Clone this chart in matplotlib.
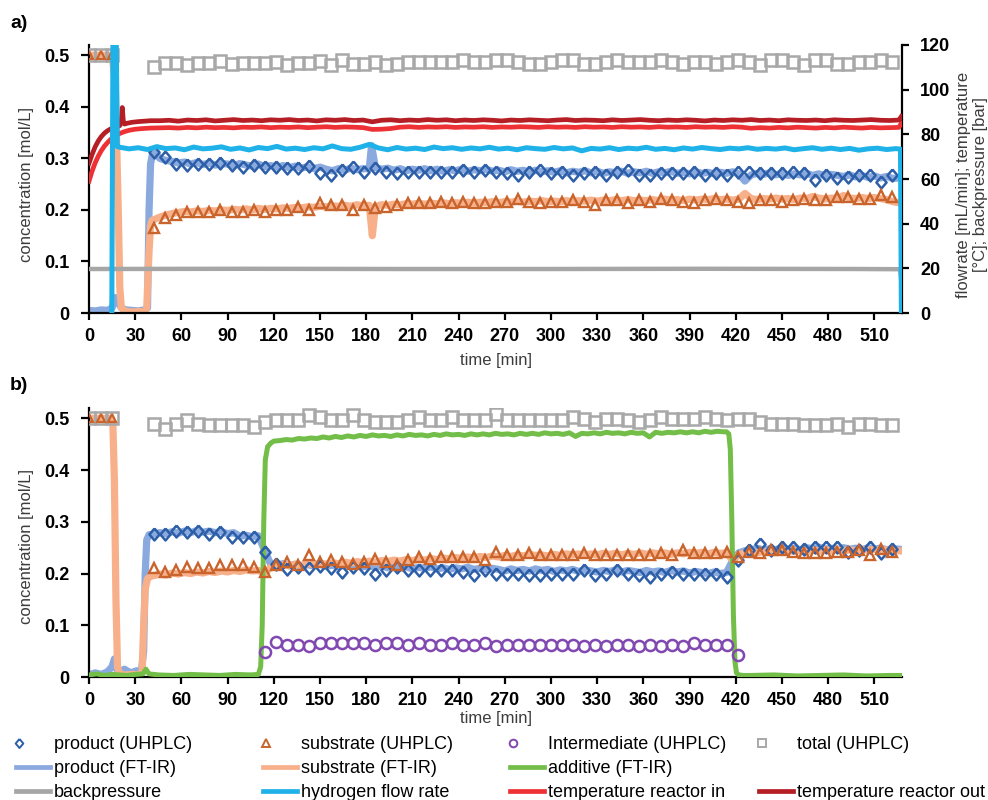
import numpy as np
import matplotlib
matplotlib.use("Agg")
import matplotlib.pyplot as plt
from matplotlib.lines import Line2D
from matplotlib.legend_handler import HandlerBase

plt.rcParams['font.family'] = ['Liberation Sans', 'DejaVu Sans']

# ------------------------------------------------------------------ DATA
# UHPLC sampling times [min] (evenly sampled, ~7.15 min)
uhplc_time = 42.5 + 7.15 * np.arange(68)
start_time = [0, 7.5, 15]
start_conc = [0.5, 0.5, 0.5]

# ---- panel a, UHPLC [mol/L]
a_prod_uhplc = [.312, .303, .290, .287, .290, .290, .291, .287, .284, .287, .284, .284, .281, .281, .286, .272, .268,
                .277, .284, .274, .281, .274, .271, .274, .274, .274, .274, .274, .277, .274, .277, .274, .271, .267,
                .274, .277, .271, .274, .267, .271, .274, .267, .274, .277, .267, .267, .271,
                .271, .271, .274, .267, .271, .267, .274, .274, .271, .271, .271, .274, .271, .258, .267, .261, .264,
                .267, .267, .255, .267]
a_sub_uhplc = [.164, .184, .190, .196, .196, .196, .200, .196, .196, .200, .196, .200, .200, .205, .200, .213, .209,
               .209, .200, .209, .203, .206, .209, .213, .213, .213, .216, .213, .216, .213, .213, .216, .216, .222,
               .216, .213, .216, .216, .219, .216, .209, .219, .219, .213, .219, .216, .222, .219, .216,
               .213, .219, .222, .219, .216, .213, .219, .219, .216, .219, .222, .219, .219, .226, .226, .222, .222,
               .229, .226]
a_total_uhplc = [.477, .485, .485, .481, .485, .485, .488, .484, .485, .485, .485, .487, .481, .485, .485, .488, .481,
                 .490, .484, .484, .487, .481, .484, .487, .487, .487, .487, .487, .490, .487, .487, .490, .490, .487,
                 .484, .484, .487, .490, .490, .484, .484, .487, .490, .487, .487, .487, .490, .487, .484,
                 .487, .487, .484, .487, .490, .487, .481, .490, .490, .487, .481, .490, .490, .484, .484, .487, .487,
                 .490, .487]

# ---- panel b, UHPLC [mol/L]
b_prod_uhplc = [.277, .277, .283, .281, .283, .277, .280, .271, .271, .271, .242, .219, .208, .213, .210, .214, .210,
                .203, .213, .210, .200, .207, .213, .207, .207, .207, .207, .207, .203, .197, .207, .200, .200, .200,
                .197, .197, .200, .200, .200, .207, .197, .200, .207, .200, .197, .194, .200,
                .203, .200, .200, .200, .200, .194, .226, .245, .258, .245, .252, .252, .248, .252, .252, .252, .242,
                .245, .252, .239, .248]
b_sub_uhplc = [.210, .203, .207, .213, .210, .210, .216, .216, .216, .213, .203, .216, .223, .216, .236, .223, .226,
               .223, .219, .223, .229, .223, .216, .226, .232, .229, .232, .232, .232, .232, .226, .242, .236, .236,
               .239, .236, .236, .236, .236, .239, .236, .236, .236, .236, .236, .236, .239,
               .236, .245, .239, .239, .239, .242, .232, .242, .239, .245, .245, .242, .239, .239, .239, .242, .242,
               .245, .236, .248, .242]
b_total_uhplc = [.490, .480, .490, .496, .490, .487, .487, .487, .487, .483, .493, .496, .496, .496, .506, .503, .496,
                 .496, .506, .496, .493, .493, .493, .496, .503, .496, .496, .503, .496, .496, .496, .509, .496, .496,
                 .496, .496, .496, .496, .503, .499, .493, .499, .499, .496, .493, .496, .503,
                 .499, .499, .499, .503, .499, .496, .499, .499, .493, .490, .490, .490, .487, .487, .487, .490, .483,
                 .490, .490, .487, .487]
# intermediate measured for UHPLC samples 10..53
b_inter_uhplc = [.049, .068, .062, .062, .059, .065, .065,
                 .065, .065, .065, .062, .065, .065, .062, .065, .062, .062, .065, .062, .062, .065, .059, .062,
                 .062, .062, .062, .062, .062, .062, .059, .062, .059, .062, .062, .059, .062, .059,
                 .062, .059, .065, .062, .062, .062, .042]

# ---- panel a, FT-IR product [mol/L]
a_prod_pre_t = [0, 4, 8, 12, 15, 17, 19, 21, 24, 28, 32, 36, 38, 39, 40, 41, 43]
a_prod_pre_y = [.005, .004, .006, .005, .010, .030, .020, .010, .006, .005, .004, .006, .010, .200, .290, .305, .310]
a_prod_grid = [.300, .296, .294, .291, .293, .289, .292, .288, .291, .287, .290, .289, .286, .290, .287, .285, .289, .284, .286,
               .283, .286, .282, .285, .281, .284, .280, .283, .279, .276, .280, .277, .281, .278, .280, .280, .282, .279, .281, .277,
               .280, .276, .279, .277, .280, .276, .279, .275, .278, .276, .279, .275, .278, .276, .279, .275, .277, .274, .278, .275,
               .277, .273, .277, .274, .276, .273, .276, .272, .275, .273, .276, .272, .275, .271, .274, .272, .275, .271, .274, .272,
               .275, .271, .274, .272, .275, .271, .273, .270, .274, .271, .273, .270, .273, .271, .274, .270, .256, .268, .271, .269,
               .272, .268, .271, .267, .270, .268, .271, .267, .270, .266, .269, .267, .265, .268, .264, .267, .263, .266, .262, .265,
               .261, .262]
a_prod_spike_t = [183.5]
a_prod_spike_y = [.325]

# ---- panel a, FT-IR substrate [mol/L]
a_sub_pre_t = [0, 5, 10, 15, 17, 19, 20, 21, 24, 28, 32, 36, 37.5, 39, 40, 41, 43]
a_sub_pre_y = [.500, .500, .500, .500, .450, .200, .050, .010, .003, .002, .003, .002, .010, .120, .170, .180, .182]
a_sub_grid = [.186, .190, .193, .195, .197, .196, .198, .197, .199, .198, .200, .199, .201, .200, .202, .200, .203, .201, .203,
              .202, .204, .203, .205, .204, .206, .205, .207, .206, .208, .207, .209, .207, .210, .208, .209, .207, .210, .209, .211,
              .210, .212, .211, .213, .211, .213, .212, .214, .212, .214, .213, .215, .213, .215, .214, .216, .214, .216, .215, .217,
              .215, .217, .216, .218, .216, .217, .216, .218, .216, .218, .217, .219, .217, .219, .218, .220, .218, .220, .218, .219,
              .218, .220, .218, .221, .219, .220, .218, .221, .219, .221, .220, .222, .220, .221, .219, .221, .232, .222, .220, .222,
              .221, .223, .221, .222, .220, .223, .222, .226, .223, .221, .223, .222, .228, .223, .222, .224, .222, .224, .222, .220,
              .216, .214]
a_sub_dip_t = [184]
a_sub_dip_y = [.150]

# ---- panel a, right axis: hydrogen flow [mL/min]
h2_pre_t = [14.8, 15.6, 17.6, 18.4]
h2_pre_y = [0, 130, 130, 74.5]
h2_grid = [74.2, 73.5, 74.0, 73.2, 74.5, 73.6, 73.9, 73.1, 74.3, 73.5,
           73.8, 74.4, 73.3, 73.9, 73.0, 74.1, 73.6, 74.6, 73.4, 73.8,
           73.2, 74.0, 73.5, 74.8, 73.6, 73.3, 74.2, 75.5, 73.9, 73.1,
           74.1, 73.4, 73.8, 73.2, 74.3, 73.6, 74.0, 73.3, 73.9, 73.5,
           74.2, 73.4, 73.8, 73.1, 74.0, 73.6, 73.3, 74.1, 73.5, 73.9,
           72.6, 73.7, 73.4, 74.0, 73.2, 73.8, 73.5, 74.2, 73.3, 73.7,
           73.1, 73.9, 73.4, 74.1, 73.6, 73.2, 73.8, 73.5, 74.0, 73.3,
           73.7, 73.4, 73.9, 73.1, 73.6, 74.0, 73.3, 73.8, 73.2, 73.7,
           72.9, 73.5, 73.8, 73.2, 73.6]
h2_end_t = [527.0, 527.6]
h2_end_y = [73.4, 0]

# ---- panel a, right axis: temperatures [°C]
tout_pre_t = [0, 2, 4, 6, 8, 10, 12, 14, 16, 18, 20, 21, 21.6, 22.3, 23, 25, 28, 32, 36, 40]
tout_pre_y = [67.0, 71.0, 74.4, 77.0, 79.0, 80.5, 81.6, 82.4, 83.0, 83.5, 83.9, 86.0, 92.0, 86.0, 84.6, 85.0, 85.4, 85.7, 85.9, 86.1]
tout_grid = [86.1, 86.3, 85.9, 86.4, 86.2, 86.5, 86.0, 86.3, 86.6, 86.2,
             86.4, 86.1, 86.5, 86.3, 86.6, 86.2, 86.4, 86.0, 86.5, 86.3,
             86.6, 86.2, 86.4, 85.6, 86.3, 86.5, 86.1, 86.4, 86.2, 86.6,
             86.3, 86.5, 86.1, 86.4, 86.2, 86.5, 86.3, 86.0, 86.4, 86.2,
             86.5, 86.3, 86.1, 86.4, 86.6, 86.2, 86.4, 86.3, 86.1, 86.5,
             86.2, 86.4, 86.6, 86.3, 86.1, 86.4, 86.2, 86.5, 86.3, 86.0,
             86.4, 86.2, 86.5, 86.3, 86.6, 86.2, 86.4, 86.1, 86.5, 86.3,
             86.2, 86.4, 86.1, 86.5, 86.3, 86.2, 86.4, 86.6, 86.3, 86.2,
             86.4]
tout_end_t = [527.6]
tout_end_y = [88.0]
tin_pre_t = [0, 2, 4, 6, 8, 10, 12, 14, 16, 18, 20, 23, 26, 30, 35, 40]
tin_pre_y = [59.0, 63.5, 67.2, 70.2, 72.7, 74.7, 76.3, 77.7, 78.8, 79.7, 80.4, 81.2, 81.8, 82.3, 82.6, 82.8]
tin_grid = [82.9, 83.0, 82.8, 83.1, 82.9, 83.2, 83.0, 83.1, 82.9, 83.2,
            83.1, 83.3, 83.0, 83.2, 83.1, 83.3, 83.0, 83.2, 83.4, 83.1,
            83.3, 83.2, 83.0, 82.2, 82.3, 82.6, 83.2, 83.4, 83.1, 83.3,
            83.2, 83.4, 83.1, 83.3, 83.2, 83.4, 83.1, 83.3, 83.2, 83.4,
            83.3, 83.1, 83.4, 83.2, 83.3, 83.1, 83.4, 83.2, 83.3, 83.1,
            83.4, 83.2, 83.3, 83.1, 83.4, 83.2, 83.3, 83.1, 83.4, 83.2,
            83.3, 83.1, 83.4, 83.2, 82.7, 83.0, 82.8, 83.1, 82.9, 83.2,
            83.0, 82.8, 83.1, 82.9, 83.2, 83.0, 82.8, 83.1, 82.9, 83.0,
            83.1]
tin_end_t = [527.6]
tin_end_y = [85.0]

# ---- panel a, right axis: backpressure [bar]
bp_t = [0, 100, 200, 300, 400, 500, 526.8, 527.6]
bp_y = [19.7, 19.8, 19.7, 19.7, 19.8, 19.7, 19.6, 14.0]

# ---- panel b, FT-IR product [mol/L]
b_prod_pre_t = [0, 4, 8, 12, 15, 16.5, 18, 20, 23, 27, 31, 34, 35.5, 36.5, 37.5, 39]
b_prod_pre_y = [.004, .008, .005, .010, .020, .035, .015, .010, .015, .008, .012, .010, .050, .200, .265, .275]
b_prod_grid = [.276, .279, .277, .281, .278, .282, .279, .283, .280, .282, .279, .281, .277, .279, .272, .274, .271, .273, .245, .218,
               .216, .219, .215, .218, .214, .217, .215, .218, .214, .216, .213, .216, .214, .217, .213, .215, .212, .215, .211, .214,
               .210, .213, .209, .212, .210, .213, .209, .211, .208, .211, .209, .212, .208, .210, .207, .210, .208, .205, .209, .206,
               .208, .205, .209, .206, .208, .204, .207, .205, .208, .204, .207, .205, .203, .206, .204, .207, .203, .206, .204, .202,
               .206, .203, .205, .202, .206, .203, .205, .201, .204, .202, .200, .203, .200, .202, .225, .240, .244, .246, .249, .245,
               .248, .246, .250, .247, .249, .246, .250, .248, .251, .247, .249, .246, .250, .247, .249, .246, .250, .247, .249, .246,
               .248, .247]

# ---- panel b, FT-IR substrate [mol/L]
b_sub_pre_t = [0, 5, 10, 14, 15.5, 16.5, 17.5, 18.5, 20, 24, 28, 32, 34.5, 35.5, 36.5, 38, 40]
b_sub_pre_y = [.500, .500, .500, .500, .490, .380, .150, .020, .005, .004, .005, .004, .010, .100, .170, .190, .195]
b_sub_grid = [.196, .199, .197, .201, .199, .202, .200, .203, .201, .204, .202, .205, .203, .206, .204, .207, .205, .206, .200, .212,
              .214, .217, .215, .218, .216, .219, .217, .220, .218, .221, .219, .222, .220, .223, .221, .224, .222, .225, .223, .226,
              .224, .227, .225, .228, .226, .229, .227, .230, .228, .231, .229, .232, .230, .233, .231, .234, .232, .235, .233, .236,
              .234, .237, .235, .236, .234, .237, .235, .238, .236, .238, .235, .238, .236, .239, .237, .239, .236, .239, .237, .240,
              .237, .240, .238, .240, .237, .240, .238, .241, .239, .241, .238, .241, .239, .240, .226, .236, .240, .242, .240, .243,
              .241, .244, .242, .245, .243, .245, .242, .245, .243, .246, .244, .246, .243, .246, .244, .247, .245, .247, .244, .246,
              .245, .244]

# ---- panel b, FT-IR additive [mol/L]
b_add_pre_t = [0, 5, 10, 15, 20, 25, 30, 35, 37, 39, 45, 55, 65, 75, 85, 95, 105, 110, 111.5, 112.5, 113.5, 114.5, 116, 118, 120]
b_add_pre_y = [.004, .006, .003, .005, .004, .003, .005, .006, .015, .006, .004, .003, .005, .004, .003, .005, .004, .005,
               .020, .100, .300, .420, .445, .452, .456]
b_add_grid = [.457, .459, .458, .461, .460, .462, .461, .464, .462, .465, .463, .466, .464, .467, .465, .468, .466, .467, .465, .468,
              .466, .469, .467, .468, .466, .469, .467, .470, .468, .469, .467, .470, .468, .470, .468, .471, .469, .470, .468, .471,
              .469, .471, .469, .472, .470, .471, .469, .472, .465, .471, .470, .472, .470, .473, .471, .472, .470, .473, .471, .472,
              .464, .473, .471, .473, .472, .474, .472, .474, .472, .475, .473, .475, .474]
b_add_end_t = [414, 415.5, 416.5, 417.5, 418.5, 419.5, 420.5, 422, 425, 430, 445, 460, 475, 490, 505, 520, 527]
b_add_end_y = [.474, .470, .440, .300, .120, .030, .008, .004, .003, .003, .004, .002, .003, .004, .002, .003, .003]

x_ticks = list(range(0, 511, 30))

# ------------------------------------------------------------------ helpers
def assemble(pre_t, pre_y, g0, step, grid, *extra):
    t = [np.asarray(pre_t, float), g0 + step * np.arange(len(grid))]
    y = [np.asarray(pre_y, float), np.asarray(grid, float)]
    for i in range(0, len(extra), 2):
        t.append(np.asarray(extra[i], float))
        y.append(np.asarray(extra[i + 1], float))
    t = np.concatenate(t)
    y = np.concatenate(y)
    o = np.argsort(t, kind="stable")
    return t[o], y[o]


C_PROD_L = "#8AAADF"
C_SUB_L = "#F8B08A"
C_ADD = "#72BE48"
C_BP = "#A6A6A6"
C_H2 = "#1FB2E8"
C_TIN = "#EE3134"
C_TOUT = "#B51E24"
C_PROD_M = "#2D5EA8"
C_SUB_M = "#C8642C"
C_INT = "#8048B0"
C_TOT = "#A8A8A8"
LABEL_C = "#3C3C3C"

# slightly tall diamond like the original
DIAMOND = [(0, 1), (0.85, 0), (0, -1), (-0.85, 0), (0, 1)]

fig = plt.figure(figsize=(9.88, 8.0), dpi=100)
W, H = 988.0, 800.0
axa = fig.add_axes([89 / W, 1 - 313 / H, (902 - 89) / W, (313 - 45) / H])
axb = fig.add_axes([89 / W, 1 - 677 / H, (902 - 89) / W, (677 - 408) / H])
axr = axa.twinx()

MS = dict(ls="none", mfc="none")


def style_axis(ax):
    ax.set_xlim(0, 528)
    ax.set_ylim(0, 0.52)
    ax.spines["top"].set_visible(False)
    ax.spines["right"].set_visible(False)
    for s in ("left", "bottom"):
        ax.spines[s].set_linewidth(1.6)
    ax.set_xticks(x_ticks)
    ax.set_xticklabels([str(v) for v in x_ticks])
    yt = [0, 0.1, 0.2, 0.3, 0.4, 0.5]
    ax.set_yticks(yt)
    ax.set_yticklabels(["0", "0.1", "0.2", "0.3", "0.4", "0.5"])
    ax.tick_params(axis="x", direction="out", length=5, width=1.6, labelsize=13, pad=6)
    ax.tick_params(axis="y", direction="out", length=6, width=1.6, labelsize=13, pad=8)
    for lab in ax.get_xticklabels() + ax.get_yticklabels():
        lab.set_fontweight("bold")
    ax.set_ylabel("concentration [mol/L]", fontsize=12, color=LABEL_C)
    ax.set_xlabel("time [min]", fontsize=12, color=LABEL_C)
    ax.yaxis.label.set_va("center")
    ax.xaxis.label.set_va("center")


def uhplc_markers(ax, total, prod, sub):
    ax.plot(start_time, start_conc, marker="s", ms=8, mec=C_TOT, mew=1.8, **MS, zorder=4)
    ax.plot(start_time, start_conc, marker="^", ms=5.5, mec=C_SUB_M, mew=1.6, **MS, zorder=5)
    ax.plot(uhplc_time, total, marker="s", ms=8, mec=C_TOT, mew=1.8, **MS, zorder=4)
    ax.plot(uhplc_time, prod, marker=DIAMOND, ms=8.6, mec=C_PROD_M, mew=1.8, **MS, zorder=5)
    ax.plot(uhplc_time, sub, marker="^", ms=7, mec=C_SUB_M, mew=1.7, **MS, zorder=5)


# ------------------------------------------------------------------ panel a
t, y = assemble(a_prod_pre_t, a_prod_pre_y, 46, 4, a_prod_grid, a_prod_spike_t, a_prod_spike_y)
axa.plot(t, y, color=C_PROD_L, lw=5.2, solid_joinstyle="round", zorder=2)
t, y = assemble(a_sub_pre_t, a_sub_pre_y, 46, 4, a_sub_grid, a_sub_dip_t, a_sub_dip_y)
axa.plot(t, y, color=C_SUB_L, lw=5.2, solid_joinstyle="round", zorder=2)
uhplc_markers(axa, a_total_uhplc, a_prod_uhplc, a_sub_uhplc)

axr.plot(bp_t, bp_y, color=C_BP, lw=3.2, zorder=2)
t, y = assemble(tin_pre_t, tin_pre_y, 46, 6, tin_grid, tin_end_t, tin_end_y)
axr.plot(t, y, color=C_TIN, lw=3.4, zorder=3)
t, y = assemble(tout_pre_t, tout_pre_y, 46, 6, tout_grid, tout_end_t, tout_end_y)
axr.plot(t, y, color=C_TOUT, lw=3.4, zorder=3)
t, y = assemble(h2_pre_t, h2_pre_y, 20, 6, h2_grid, h2_end_t, h2_end_y)
axr.plot(t, y, color=C_H2, lw=3.6, zorder=4)

style_axis(axa)
axr.set_ylim(0, 120)
axr.set_yticks([0, 20, 40, 60, 80, 100, 120])
axr.set_yticklabels(["0", "20", "40", "60", "80", "100", "120"])
axr.tick_params(axis="y", direction="out", length=5, width=1.6, labelsize=13, pad=8)
for lab in axr.get_yticklabels():
    lab.set_fontweight("bold")
for s in ("top", "left", "bottom"):
    axr.spines[s].set_visible(False)
axr.spines["right"].set_linewidth(1.6)
axr.set_ylabel("flowrate [mL/min]; temperature\n[°C]; backpressure [bar]", fontsize=12,
               color=LABEL_C, rotation=90, multialignment="center")
axr.yaxis.label.set_va("center")
axr.yaxis.label.set_ha("center")
axr.yaxis.set_label_coords((972 - 89) / 813, (313 - 185) / 268)
axa.yaxis.set_label_coords((27 - 89) / 813, (313 - 185) / 268)
axa.xaxis.set_label_coords(0.5, (313 - 360) / 268)

# ------------------------------------------------------------------ panel b
t, y = assemble(b_prod_pre_t, b_prod_pre_y, 42, 4, b_prod_grid)
axb.plot(t, y, color=C_PROD_L, lw=5.2, solid_joinstyle="round", zorder=2)
t, y = assemble(b_sub_pre_t, b_sub_pre_y, 42, 4, b_sub_grid)
axb.plot(t, y, color=C_SUB_L, lw=5.2, solid_joinstyle="round", zorder=2)
t, y = assemble(b_add_pre_t, b_add_pre_y, 124, 4, b_add_grid, b_add_end_t, b_add_end_y)
axb.plot(t, y, color=C_ADD, lw=3.6, solid_joinstyle="round", zorder=3)
uhplc_markers(axb, b_total_uhplc, b_prod_uhplc, b_sub_uhplc)
axb.plot(uhplc_time[10:10 + len(b_inter_uhplc)], b_inter_uhplc, marker="o", ms=8, mec=C_INT, mew=1.8,
         **MS, zorder=5)

style_axis(axb)
axb.yaxis.set_label_coords((27 - 89) / 813, (677 - 547) / 269)
axb.xaxis.set_label_coords(0.5, (677 - 718) / 269)

fig.text(19 / W, 1 - 24 / H, "a)", fontsize=14, fontweight="bold", ha="center", va="center")
fig.text(19 / W, 1 - 386 / H, "b)", fontsize=14, fontweight="bold", ha="center", va="center")


# ------------------------------------------------------------------ legend
class HandlerLeftMarker(HandlerBase):
    def create_artists(self, legend, orig_handle, xdescent, ydescent, width, height, fontsize, trans):
        m = Line2D([-xdescent + 0.1 * width], [(height - ydescent) / 2], ls="none",
                   marker=orig_handle.get_marker(), ms=orig_handle.get_markersize(),
                   mfc="none", mec=orig_handle.get_markeredgecolor(), mew=orig_handle.get_markeredgewidth(),
                   transform=trans)
        return [m]


def mk(marker, color, ms=5.0):
    return Line2D([], [], ls="none", marker=marker, ms=ms, mfc="none", mec=color, mew=1.4)


def ln(color):
    return Line2D([], [], color=color, lw=3.4)


blank = Line2D([], [], ls="none")
columns = [
    ([mk(DIAMOND, C_PROD_M, 6.5), ln(C_PROD_L), ln(C_BP)], ["product (UHPLC)", "product (FT-IR)", "backpressure"], 16),
    ([mk("^", C_SUB_M, 5.5), ln(C_SUB_L), ln(C_H2)], ["substrate (UHPLC)", "substrate (FT-IR)", "hydrogen flow rate"], 263),
    ([mk("o", C_INT, 5.5), ln(C_ADD), ln(C_TIN)], ["Intermediate (UHPLC)", "additive (FT-IR)", "temperature reactor in"], 510),
    ([mk("s", C_TOT, 5.5), blank, ln(C_TOUT)], ["total (UHPLC)", " ", "temperature reactor out"], 759),
]
for handles, labels, x0 in columns:
    hmap = {handles[0]: HandlerLeftMarker()}
    fig.legend(handles, labels, loc="upper left", bbox_to_anchor=(x0 / W, 1 - 736 / H),
               frameon=False, fontsize=13, handlelength=1.9, handletextpad=0.2,
               borderpad=0, borderaxespad=0, labelspacing=0.4, handler_map=hmap)

fig.savefig("out.png", dpi=100)
